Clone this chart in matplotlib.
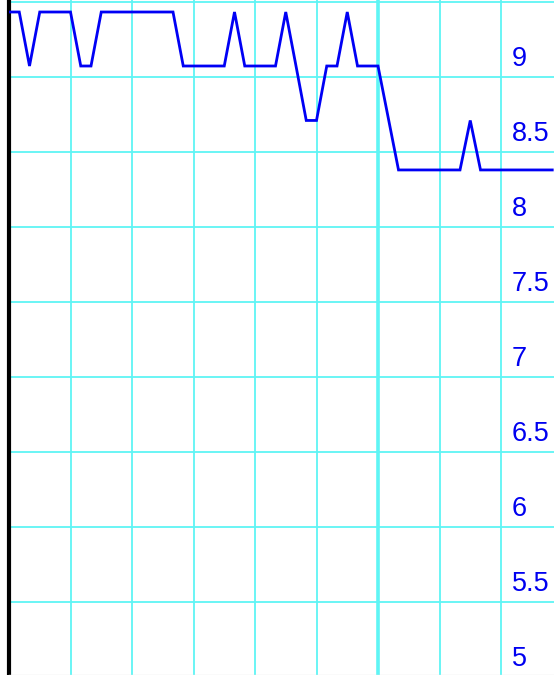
import matplotlib
matplotlib.use('Agg')
import matplotlib.pyplot as plt
import matplotlib.transforms as mtransforms

# 数据: 每个采样点的值 (等间距)
T = 9.433
L1 = 9.073
L2 = 8.71
L3 = 8.38
values = [T, T, L1, T, T, T, T, L1, L1, T,
          T, T, T, T, T, T, T, L1, L1, L1,
          L1, L1, T, L1, L1, L1, L1, T, L1, L2,
          L2, L1, L1, T, L1, L1, L1, 8.727, L3, L3,
          L3, L3, L3, L3, L3, L2, L3, L3, L3, L3,
          L3, L3, L3, L3]
xs = list(range(len(values)))

y_ticks = [5, 5.5, 6, 6.5, 7, 7.5, 8, 8.5, 9, 9.5]
y_labels = ['5', '5.5', '6', '6.5', '7', '7.5', '8', '8.5', '9']
x_grid = [6, 12, 18, 24, 30, 36, 42, 48]

fig = plt.figure(figsize=(5.54, 6.75), dpi=100)
ax = fig.add_axes([9/554, 0, 1 - 9/554, 1])

# 网格线
for v in y_ticks:
    ax.axhline(v, color='#5ef5f5', lw=1.3, zorder=1)
for g in x_grid:
    ax.axvline(g, color='#5ef5f5', lw=2.6 if g == 36 else 1.3, zorder=1)

ax.plot(xs, values, color='#0000f5', lw=2.0, zorder=3, solid_joinstyle='miter')

ax.set_xlim(0, 53.17)
ax.set_ylim(5.013, 9.513)

# 右侧刻度标签 (在网格线上方)
off = mtransforms.offset_copy(ax.transData, fig=fig, x=0, y=12.8, units='points')
trans = mtransforms.blended_transform_factory(ax.transAxes, off)
for lab in y_labels:
    ax.text(0.922, float(lab), lab, transform=trans, ha='left', va='center',
            color='#0000f0', fontsize=19.5, family='Liberation Sans', zorder=4)

ax.set_xticks([])
ax.set_yticks([])
ax.spines['top'].set_visible(False)
ax.spines['right'].set_visible(False)
ax.spines['bottom'].set_color('#e6e6e6')
ax.spines['bottom'].set_linewidth(1)
ax.spines['left'].set_color('black')
ax.spines['left'].set_linewidth(3)

fig.savefig('out.png', dpi=100)
